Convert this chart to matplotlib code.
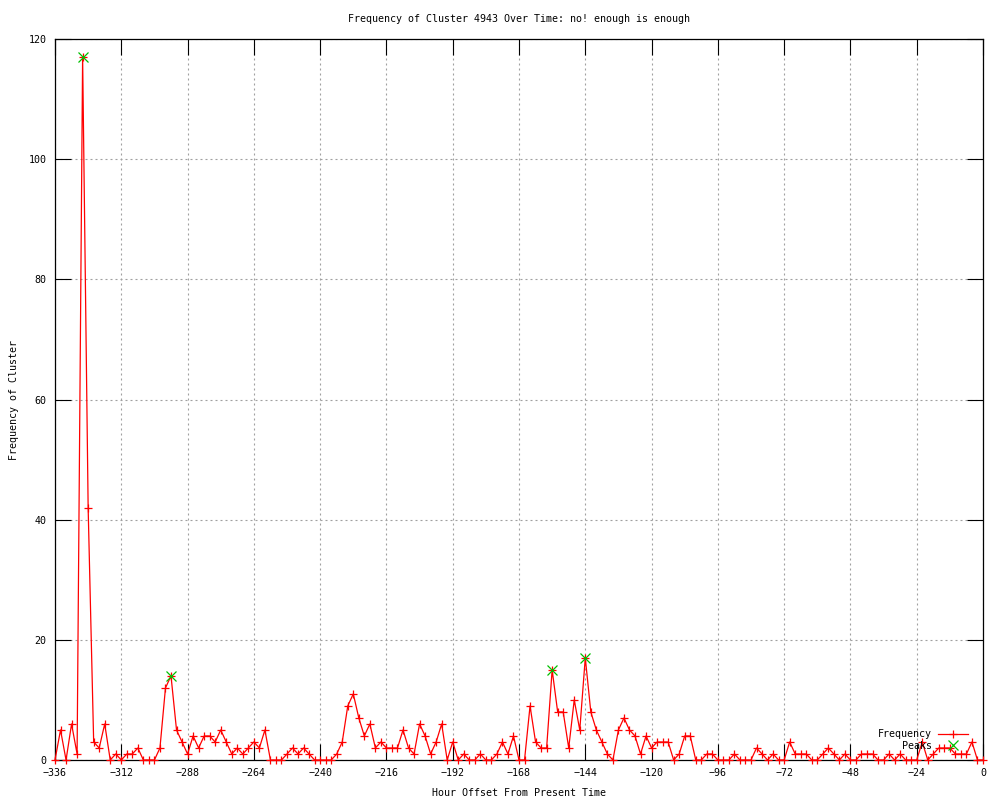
import numpy as np
import matplotlib
matplotlib.use("Agg")
from matplotlib import pyplot as plt

# hour offsets, one point every 2 hours
hours = list(range(-336, 1, 2))
freq = [0, 5, 0, 6, 1, 117, 42, 3, 2, 6,      # -336 .. -318
        0, 1, 0, 1, 1, 2, 0, 0, 0, 2,         # -316 .. -298
        12, 14, 5, 3, 1, 4, 2, 4, 4, 3,       # -296 .. -278
        5, 3, 1, 2, 1, 2, 3, 2, 5, 0,         # -276 .. -258
        0, 0, 1, 2, 1, 2, 1, 0, 0, 0,         # -256 .. -238
        0, 1, 3, 9, 11, 7, 4, 6, 2, 3,        # -236 .. -218
        2, 2, 2, 5, 2, 1, 6, 4, 1, 3,         # -216 .. -198
        6, 0, 3, 0, 1, 0, 0, 1, 0, 0,         # -196 .. -178
        1, 3, 1, 4, 0, 0, 9, 3, 2, 2,         # -176 .. -158
        15, 8, 8, 2, 10, 5, 17, 8, 5, 3,      # -156 .. -138
        1, 0, 5, 7, 5, 4, 1, 4, 2, 3,         # -136 .. -118
        3, 3, 0, 1, 4, 4, 0, 0, 1, 1,         # -116 .. -98
        0, 0, 0, 1, 0, 0, 0, 2, 1, 0,         # -96 .. -78
        1, 0, 0, 3, 1, 1, 1, 0, 0, 1,         # -76 .. -58
        2, 1, 0, 1, 0, 0, 1, 1, 1, 0,         # -56 .. -38
        0, 1, 0, 1, 0, 0, 0, 3, 0, 1,         # -36 .. -18
        2, 2, 2, 1, 1, 1, 3, 0, 0]            # -16 .. 0

peak_hours = [-326, -294, -156, -144]
peak_vals = [117, 14, 15, 17]

xticks = list(range(-336, 1, 24))
yticks = list(range(0, 121, 20))

plt.rcParams['font.family'] = 'DejaVu Sans Mono'
plt.rcParams['font.size'] = 7.2

fig = plt.figure(figsize=(10, 8), dpi=100)
ax = fig.add_axes([0.055, 0.05, 0.928, 0.901])

ax.plot(hours, freq, color='red', lw=0.9, marker='+', ms=6, mew=0.9,
        clip_on=False, label='Frequency', zorder=3)
ax.plot(peak_hours, peak_vals, ls='none', color='#00c000', marker='x', ms=6.5,
        mew=0.9, clip_on=False, label='Peaks', zorder=4)

ax.set_xlim(-336, 0)
ax.set_ylim(0, 120)
ax.set_xticks(xticks)
ax.set_yticks(yticks)
ax.tick_params(direction='in', length=11.5, width=0.8, top=True, right=True,
               colors='black', labelsize=7.2, pad=6)
ax.grid(True, color='#a0a0a0', lw=0.8, ls=(0, (1.8, 2.7)))
ax.set_axisbelow(True)
for s in ax.spines.values():
    s.set_linewidth(0.9)

ax.set_title('Frequency of Cluster 4943 Over Time: no! enough is enough',
             fontsize=7.2, pad=12.5)
ax.set_xlabel('Hour Offset From Present Time', fontsize=7.2, labelpad=7)
ax.set_ylabel('Frequency of Cluster', fontsize=7.2, labelpad=7)

leg = ax.legend(loc='lower right', bbox_to_anchor=(0.984, 0.013), frameon=False,
                markerfirst=False, handlelength=3.0, handletextpad=0.6,
                labelspacing=0.15, borderaxespad=0, borderpad=0, numpoints=1,
                fontsize=7.2)

fig.savefig('out.png', dpi=100)
